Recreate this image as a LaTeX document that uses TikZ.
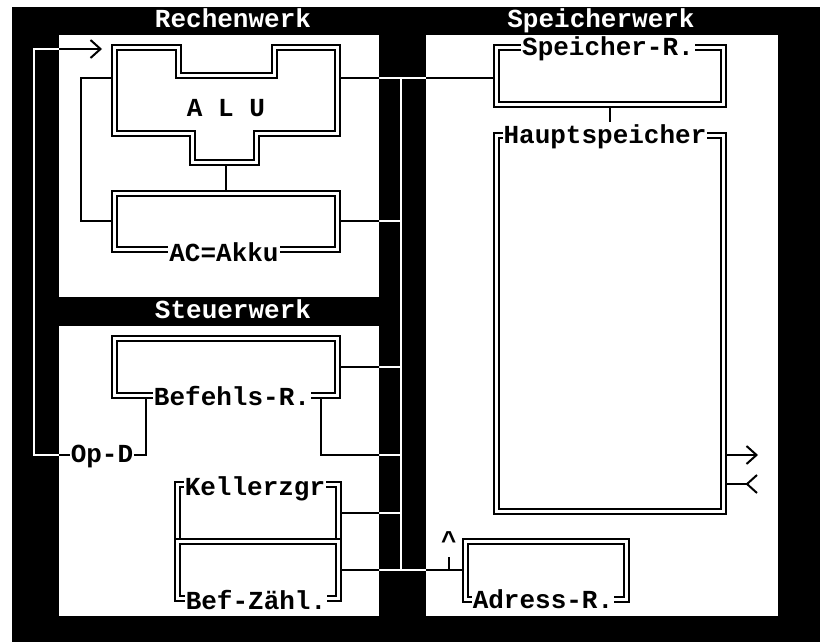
\documentclass[tikz,border=0pt]{standalone}
\usepackage{fontspec}
\setmonofont{Liberation Mono}
\usetikzlibrary{arrows.meta}

% all bus wires, drawn once per colour
\newcommand\wiring{%
  \draw[wire] (aluW) -- ++(-30,0) |- (ac.west);
  \draw[wire] (aluS) -- (aluS |- ac.north);
  \draw[wire] (aluE) -- (aluE -| speicherR.west);
  \draw[wire] (busT) -- (busB);
  \draw[wire] (ac.east) -- (ac.east -| busT);
  \draw[wire] (befehl.east) -- (befehl.east -| busT);
  \draw[wire] ([xshift=-19.5pt]befehl.south east) |- (opdJ);
  \draw[wire] (keller.east) -- (keller.east -| busT);
  \draw[wire] (befz.east) -- (befz.east -| adress.west);
  \draw[wire] (adrTick) -- ++(0,-13);
  \draw[wire] (speicherR.south) -- ++(0,13);
  \draw[wire,inarrow] ([xshift=35.5pt]befehl.south west) |- (loopL) |- (aluIn);
  \draw[wire,inarrow] (hsOut -| haupt.east) -- (hsOut);
  \draw[wire,backarrow] (hsIn -| haupt.east) -- (hsIn);
}

\begin{document}
\begin{tikzpicture}[x=1pt,y=-1pt,
    font=\ttfamily\bfseries\fontsize{26}{30}\selectfont,
    wire/.style={line width=2pt},
    inarrow/.style={-{Straight Barb[length=10pt,width=18pt]}},
    backarrow/.style={-{Straight Barb[length=10pt,width=18pt,reversed]}},
    dline/.style={draw=black,line width=2pt,double=white,double distance=3pt},
    regbox/.style={dline,fill=white,inner sep=0pt,outer sep=3.5pt},
    edgelabel/.style={fill=white,inner xsep=1pt,inner ysep=0pt,anchor=base},
    unit/.style={text=white,anchor=base},
  ]

  \useasboundingbox (0,0) rectangle (820,642);
  \fill[white] (0,0) rectangle (820,642);
  \fill[black] (12,7) rectangle (820,642);

  % the three units
  \fill[white] (59,35) rectangle (379,297);
  \fill[white] (59,326) rectangle (379,616);
  \fill[white] (426,35) rectangle (778,616);
  \node[unit] (rechenT) at (233,28) {Rechenwerk};
  \node[unit] (steuerT) at (233,318) {Steuerwerk};
  \node[unit] (speicherT) at (601,28) {Speicherwerk};

  % ALU
  \draw[dline,fill=white] (114,48) -- (178,48) -- (178,76) -- (274,76) -- (274,48)
    -- (337,48) -- (337,133) -- (256,133) -- (256,162) -- (192,162) -- (192,133)
    -- (114,133) -- cycle;
  \node[anchor=base] (alu) at (226,117) {A L U};
  \coordinate (aluW) at (110.5,78);
  \coordinate (aluE) at (340.5,78);
  \coordinate (aluS) at (226,165.5);
  \coordinate (aluIn) at (102,49);

  % registers
  \node[regbox,minimum width=223pt,minimum height=56pt] (ac) at (225.5,221) {};
  \node[regbox,minimum width=223pt,minimum height=57pt] (befehl) at (225.5,366.5) {};
  \node[regbox,minimum width=161pt,minimum height=57pt] (keller) at (257.5,512.5) {};
  \node[regbox,minimum width=161pt,minimum height=57pt] (befz) at (257.5,569.5) {};
  \node[regbox,minimum width=227pt,minimum height=57pt] (speicherR) at (609.5,76.5) {};
  \node[regbox,minimum width=227pt,minimum height=376pt] (haupt) at (609.5,323) {};
  \node[regbox,minimum width=161pt,minimum height=58pt] (adress) at (545.5,570) {};

  \coordinate (busT) at (401,78);
  \coordinate (busB) at (401,570);
  \coordinate (loopL) at (34,455);
  \coordinate (opdJ) at (401,455);
  \coordinate (hsOut) at (758,455);
  \coordinate (hsIn) at (758,484);
  \coordinate (adrTick) at (449,570);

  % white on black, black on the units
  \begin{scope}[color=white]
    \wiring
  \end{scope}
  \begin{scope}[color=black]
    \clip (59,35) rectangle (379,297) (59,326) rectangle (379,616)
      (426,35) rectangle (778,616);
    \wiring
  \end{scope}

  % names set into the frames
  \node[edgelabel] (acL) at (224,261) {AC=Akku};
  \node[edgelabel] (befehlL) at (232,405) {Befehls-R.};
  \node[edgelabel] (opdL) at (102,462) {Op-D};
  \node[edgelabel] (kellerL) at (255,495) {Kellerzgr};
  \node[edgelabel] (befzL) at (256,609) {Bef-Zähl.};
  \node[edgelabel] (speicherRL) at (608,56) {Speicher-R.};
  \node[edgelabel] (hauptL) at (605,143) {Hauptspeicher};
  \node[edgelabel] (adressL) at (543,608) {Adress-R.};
  \node[anchor=base] (caret) at (449,549) {\textasciicircum};

\end{tikzpicture}
\end{document}
